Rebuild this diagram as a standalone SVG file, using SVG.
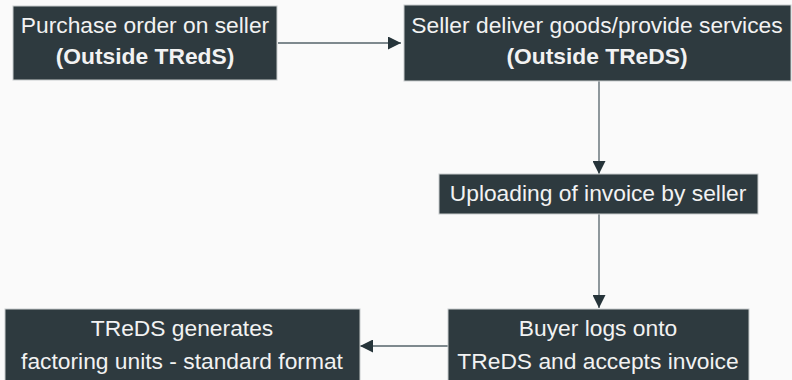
<svg xmlns="http://www.w3.org/2000/svg" width="792" height="380" viewBox="0 0 792 380">
  <style>
    .box { fill: #2e3a3f; stroke: #c8cccd; stroke-width: 1; }
    .lbl { fill: #f2f2f2; font-family: "Liberation Sans", "DejaVu Sans", sans-serif; font-size: 22.8px; text-anchor: middle; }
    .bold { font-weight: bold; }
    .edge { fill: none; stroke: #55636a; stroke-width: 1.3; marker-end: url(#head); }
  </style>
  <defs>
    <marker id="head" viewBox="0 0 13 13" refX="13" refY="6.5" markerWidth="13" markerHeight="13" markerUnits="userSpaceOnUse" orient="auto">
      <path d="M0,0 L13,6.5 L0,13 Z" fill="#26343a"/>
    </marker>
  </defs>
  <rect width="792" height="380" fill="#fafafa"/>

  <g id="connectors">
    <path class="edge" d="M278,43 H401"/>
    <path class="edge" d="M599,81 V174"/>
    <path class="edge" d="M599,214 V308"/>
    <path class="edge" d="M448,346 H360"/>
  </g>

  <g id="purchase-order">
    <rect class="box" x="13" y="6" width="264" height="74"/>
    <text class="lbl" x="145" y="33">Purchase order on seller</text>
    <text class="lbl bold" x="145" y="64">(Outside TRedS)</text>
  </g>

  <g id="seller-deliver">
    <rect class="box" x="404" y="5" width="387" height="76"/>
    <text class="lbl" x="597" y="33">Seller deliver goods/provide services</text>
    <text class="lbl bold" x="597" y="64">(Outside TReDS)</text>
  </g>

  <g id="upload-invoice">
    <rect class="box" x="439" y="174" width="319" height="40"/>
    <text class="lbl" x="598" y="201">Uploading of invoice by seller</text>
  </g>

  <g id="buyer-accepts">
    <rect class="box" x="448" y="309" width="301" height="74"/>
    <text class="lbl" x="598" y="336">Buyer logs onto</text>
    <text class="lbl" x="598" y="369">TReDS and accepts invoice</text>
  </g>

  <g id="factoring-units">
    <rect class="box" x="5" y="309" width="355" height="74"/>
    <text class="lbl" x="182" y="336">TReDS generates</text>
    <text class="lbl" x="182" y="369">factoring units - standard format</text>
  </g>
</svg>
